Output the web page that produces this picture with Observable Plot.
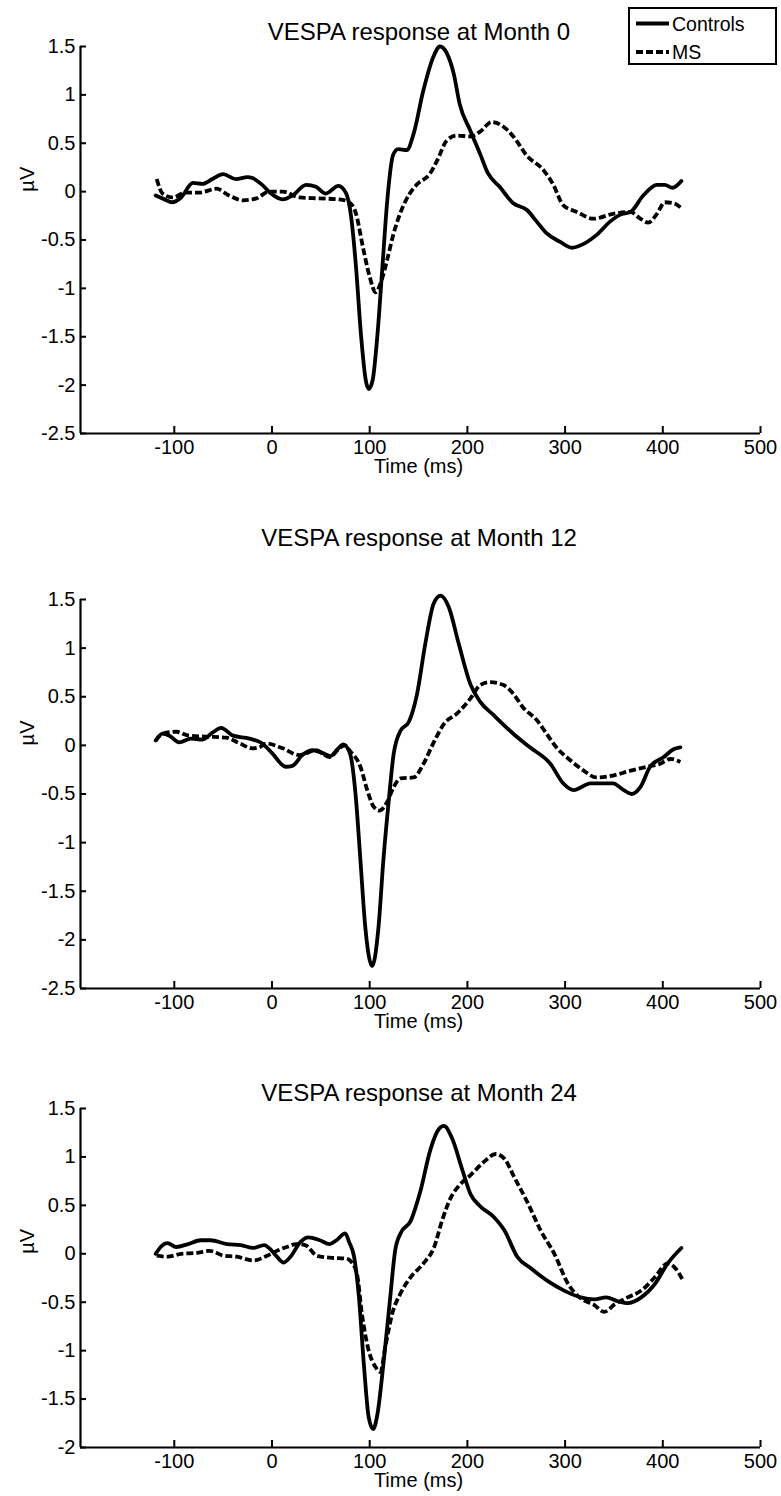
<!DOCTYPE html>
<html>
<head>
<meta charset="utf-8">
<script src="https://cdn.jsdelivr.net/npm/d3@7"></script>
<script src="https://cdn.jsdelivr.net/npm/@observablehq/plot@0.6"></script>
<style>
  html, body { margin: 0; padding: 0; background: #fff; }
  #wrap { position: relative; width: 781px; height: 1496px; font-family: "Liberation Sans", Arial, Helvetica, sans-serif; }
  #wrap svg { display: block; }
  #legend { position: absolute; left: 628px; top: 7px; }
</style>
</head>
<body>
<div id="wrap"></div>
<script>
// ---------- Data ----------
const titles = ["VESPA response at Month 0", "VESPA response at Month 12", "VESPA response at Month 24"];
const seriesNames = ["Controls", "MS"];
const xTicks = [-100, 0, 100, 200, 300, 400, 500];
const yTicksA = [-2.5, -2, -1.5, -1, -0.5, 0, 0.5, 1, 1.5];
const yTicksB = [-2, -1.5, -1, -0.5, 0, 0.5, 1, 1.5];
const xLabel = "Time (ms)";
const yLabel = "µV";

// Month 0
const m0CtrlT = [-119,-110,-102,-93,-81,-71,-61,-50,-37,-25,-20,-10,-1,11,21,35,45,55,68,76,81,86,91,96,99,103,108,113,118,124,129,138,145,155,165,172,179,186,192,203,213,221,233,247,261,271,281,295,307,319,332,346,356,367,380,394,402,410,419];
const m0CtrlV = [-0.04,-0.08,-0.11,-0.06,0.09,0.08,0.13,0.18,0.13,0.15,0.14,0.07,-0.02,-0.08,-0.04,0.07,0.05,-0.02,0.06,-0.02,-0.26,-0.78,-1.47,-1.95,-2.04,-1.95,-1.47,-0.78,-0.09,0.38,0.44,0.43,0.60,1.05,1.39,1.50,1.43,1.22,0.91,0.63,0.39,0.19,0.05,-0.12,-0.19,-0.31,-0.43,-0.52,-0.58,-0.54,-0.45,-0.31,-0.24,-0.21,-0.04,0.07,0.07,0.04,0.11];
const m0MsT = [-118,-112,-102,-88,-74,-57,-44,-30,-16,-3,11,28,48,69,79,86,93,100,106,112,118,124,131,141,148,162,169,179,189,203,213,225,237,247,261,278,288,298,312,329,349,367,377,385,394,402,411,419];
const m0MsV = [0.13,-0.02,-0.06,-0.01,-0.01,0.03,-0.04,-0.09,-0.07,0.0,0.0,-0.06,-0.07,-0.08,-0.11,-0.23,-0.57,-0.88,-1.04,-0.92,-0.70,-0.45,-0.23,-0.02,0.07,0.19,0.32,0.53,0.58,0.57,0.62,0.72,0.67,0.57,0.37,0.22,0.07,-0.14,-0.21,-0.28,-0.23,-0.21,-0.28,-0.32,-0.23,-0.11,-0.12,-0.17];

// Month 12
const m12CtrlT = [-119,-112,-105,-95,-83,-71,-61,-52,-40,-23,-10,1,14,21,31,42,52,60,67,73,80,85.5,90.5,95.5,102.5,109,114,119.5,124.5,131.5,140,148.5,157,165.5,172.5,181,191,203,213,227,247,264,285,298,309,326,349,360,368,377,387,401,411,418];
const m12CtrlV = [0.05,0.12,0.10,0.03,0.07,0.06,0.13,0.18,0.10,0.07,0.02,-0.09,-0.22,-0.21,-0.10,-0.05,-0.08,-0.11,-0.04,0.01,-0.09,-0.50,-1.18,-1.87,-2.27,-1.87,-1.18,-0.57,-0.09,0.15,0.24,0.53,1.05,1.46,1.54,1.42,1.05,0.63,0.45,0.31,0.12,-0.02,-0.19,-0.39,-0.46,-0.39,-0.39,-0.46,-0.50,-0.43,-0.22,-0.12,-0.04,-0.02];
const m12MsT = [-119,-112,-98,-85,-68,-47,-33,-20,-13,-6,11,28,45,59,69,74,80,90.5,97.5,104,110,118,124.5,131.5,145,155,165.5,176,189.5,203,213,223,237,247,257,271,281,291,305,319,332,349,367,384,397,408,418];
const m12MsV = [0.05,0.12,0.14,0.10,0.09,0.08,0.02,-0.03,-0.02,0.02,-0.03,-0.10,-0.05,-0.12,-0.03,0.0,-0.06,-0.22,-0.46,-0.63,-0.67,-0.58,-0.43,-0.34,-0.33,-0.19,0.03,0.22,0.33,0.48,0.62,0.65,0.62,0.53,0.39,0.26,0.12,-0.02,-0.15,-0.26,-0.33,-0.31,-0.26,-0.22,-0.19,-0.14,-0.17];

// Month 24
const m24CtrlT = [-119,-114,-107,-98,-86,-73,-63,-46,-32,-19,-8,-2,5,12,19,29,37,49,59,66,75,79,84,89,94,99,103.5,108,114,121,126,131.5,142,152,162,171,176,184,195,203,212,227,238,251,265,282,299,316,330,342,354,364,378,392,405,419];
const m24CtrlV = [0.0,0.07,0.11,0.07,0.10,0.14,0.14,0.10,0.09,0.06,0.09,0.05,-0.03,-0.09,-0.03,0.12,0.17,0.14,0.10,0.14,0.21,0.12,-0.03,-0.45,-1.14,-1.69,-1.81,-1.65,-1.14,-0.45,0.03,0.21,0.34,0.65,1.07,1.29,1.32,1.20,0.86,0.62,0.50,0.38,0.24,-0.03,-0.15,-0.28,-0.38,-0.45,-0.47,-0.45,-0.49,-0.51,-0.45,-0.31,-0.10,0.06];
const m24MsT = [-118,-107,-93,-76,-64,-49,-36,-19,-5,5,15,25,34,46,59,76,80,87,92,99,106,111,116,123,131.5,142,155,166,174,183,193,203,217,229,238,248,262,275,289,303,316,330,340,351,364,378,392,405,412,421];
const m24MsV = [-0.02,-0.03,0.0,0.01,0.03,-0.02,-0.03,-0.07,-0.02,0.03,0.07,0.10,0.09,-0.02,-0.04,-0.05,-0.07,-0.21,-0.62,-1.00,-1.17,-1.22,-0.96,-0.62,-0.41,-0.24,-0.10,0.07,0.34,0.58,0.72,0.81,0.95,1.03,0.98,0.79,0.52,0.24,0.0,-0.31,-0.46,-0.53,-0.60,-0.52,-0.45,-0.38,-0.24,-0.10,-0.14,-0.28];

// ---------- Drawing ----------
const FONT = '"Liberation Sans", Arial, Helvetica, sans-serif';
const X_DOMAIN = [-196, 500];
const WIDTH = 781, ML = 80, MR = 21;
const DASH = "7 3";
const LW = 3.8;

function rows(ts, vs) { return ts.map((t, i) => ({t, v: vs[i]})); }

function panel(cfg) {
  const plotH = cfg.height - cfg.marginTop - cfg.marginBottom;
  const plotW = WIDTH - ML - MR;
  const yDomain = [cfg.yTicks[0], cfg.yTicks[cfg.yTicks.length - 1]];
  return Plot.plot({
    width: WIDTH,
    height: cfg.height,
    marginLeft: ML,
    marginRight: MR,
    marginTop: cfg.marginTop,
    marginBottom: cfg.marginBottom,
    style: {fontFamily: FONT, fontSize: "20px", color: "black", background: "white", overflow: "visible"},
    x: {domain: X_DOMAIN},
    y: {domain: yDomain},
    marks: [
      Plot.axisX({ticks: xTicks, tickSize: 0, tickPadding: 6.5, tickFormat: d => String(d), label: null, fontSize: 20}),
      Plot.axisY({ticks: cfg.yTicks, tickSize: 0, tickPadding: 5, tickFormat: d => String(d), label: null, fontSize: 20}),
      // inward ticks
      Plot.tickX(xTicks, {x: d => d, insetTop: plotH - 7, stroke: "black", strokeWidth: 2}),
      Plot.tickY(cfg.yTicks, {y: d => d, insetRight: plotW - 6, stroke: "black", strokeWidth: 2}),
      // axis lines
      Plot.ruleY([yDomain[0]], {stroke: "black", strokeWidth: 2.2}),
      Plot.ruleX([X_DOMAIN[0]], {stroke: "black", strokeWidth: 2.2}),
      // series
      Plot.line(rows(cfg.msT, cfg.msV), {x: "t", y: "v", stroke: "black", strokeWidth: LW, strokeDasharray: DASH, strokeLinecap: "butt", curve: "monotone-x"}),
      Plot.line(rows(cfg.ctrlT, cfg.ctrlV), {x: "t", y: "v", stroke: "black", strokeWidth: LW, curve: "monotone-x"}),
      // title
      Plot.text([cfg.title], {text: d => d, frameAnchor: "top", dy: cfg.titleDy, dx: -1.5, fontSize: 24, fill: "black"}),
      // x label
      Plot.text([xLabel], {text: d => d, frameAnchor: "bottom", dy: 39.5, dx: -2, fontSize: 20, fill: "black"}),
      // y label at value 0
      Plot.text([0], {y: d => d, text: () => yLabel, frameAnchor: "left", dx: -53, rotate: -90, fontSize: 20, fill: "black"})
    ]
  });
}

const wrap = document.getElementById("wrap");
wrap.appendChild(panel({title: titles[0], ctrlT: m0CtrlT, ctrlV: m0CtrlV, msT: m0MsT, msV: m0MsV,
  yTicks: yTicksA, height: 483, marginTop: 46, marginBottom: 50, titleDy: -24}));
wrap.appendChild(panel({title: titles[1], ctrlT: m12CtrlT, ctrlV: m12CtrlV, msT: m12MsT, msV: m12MsV,
  yTicks: yTicksA, height: 557, marginTop: 116, marginBottom: 52, titleDy: -70.5}));
wrap.appendChild(panel({title: titles[2], ctrlT: m24CtrlT, ctrlV: m24CtrlV, msT: m24MsT, msV: m24MsV,
  yTicks: yTicksB, height: 456, marginTop: 68, marginBottom: 49, titleDy: -24.5}));

// legend (panel 1, top right)
const ns = "http://www.w3.org/2000/svg";
const lg = document.createElementNS(ns, "svg");
lg.setAttribute("id", "legend");
lg.setAttribute("width", 150);
lg.setAttribute("height", 60);
const rect = document.createElementNS(ns, "rect");
rect.setAttribute("x", 1); rect.setAttribute("y", 1);
rect.setAttribute("width", 147); rect.setAttribute("height", 56);
rect.setAttribute("fill", "white"); rect.setAttribute("stroke", "black"); rect.setAttribute("stroke-width", 2);
lg.appendChild(rect);
seriesNames.forEach((name, i) => {
  const cy = 16.5 + i * 28.5;
  const ln = document.createElementNS(ns, "line");
  ln.setAttribute("x1", 8); ln.setAttribute("x2", 41);
  ln.setAttribute("y1", cy); ln.setAttribute("y2", cy);
  ln.setAttribute("stroke", "black"); ln.setAttribute("stroke-width", LW);
  if (i === 1) ln.setAttribute("stroke-dasharray", DASH);
  lg.appendChild(ln);
  const tx = document.createElementNS(ns, "text");
  tx.setAttribute("x", 44); tx.setAttribute("y", cy + 7);
  tx.setAttribute("font-family", FONT); tx.setAttribute("font-size", 19.5);
  tx.setAttribute("fill", "black");
  tx.textContent = name;
  lg.appendChild(tx);
});
wrap.appendChild(lg);
</script>
</body>
</html>
